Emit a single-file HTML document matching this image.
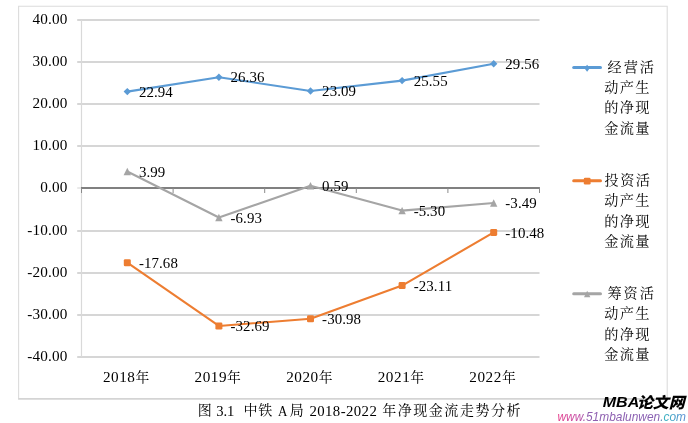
<!DOCTYPE html>
<html lang="zh-CN"><head><meta charset="utf-8"><title>图 3.1 中铁 A 局 2018-2022 年净现金流走势分析</title>
<style>html,body{margin:0;padding:0;background:#fff}body{width:688px;height:423px;overflow:hidden}svg{display:block}text{font-family:'Liberation Serif','Noto Serif CJK SC',serif;fill:#000}.n{font-size:15.2px;letter-spacing:0.18px}.d{font-size:14.9px;letter-spacing:0.1px}.c{font-size:14px}.w{font-family:'Liberation Sans','Noto Sans CJK SC',sans-serif;font-style:italic}</style></head><body>
<svg width="688" height="423" viewBox="0 0 688 423">
<defs><linearGradient id="wg" gradientUnits="userSpaceOnUse" x1="557" x2="686" y1="0" y2="0"><stop offset="0" stop-color="#e8408c"/><stop offset="0.17" stop-color="#c44fa8"/><stop offset="0.24" stop-color="#9060b0"/><stop offset="0.79" stop-color="#8a62b4"/><stop offset="0.825" stop-color="#3cb4c0"/><stop offset="1" stop-color="#5a8cd4"/></linearGradient></defs>
<rect width="688" height="423" fill="#fff"/>
<path d="M18.6 398.6V6.3H667.2V398.6" fill="none" stroke="#dcdcdc" stroke-width="1.1"/>
<line x1="18.1" x2="667.7" y1="398.9" y2="398.9" stroke="#d4d4d4" stroke-width="1.9"/>
<line x1="77.2" x2="539.5" y1="357.00" y2="357.00" stroke="#d6d6d6" stroke-width="1.9"/>
<line x1="77.2" x2="539.5" y1="315.00" y2="315.00" stroke="#d6d6d6" stroke-width="1.9"/>
<line x1="77.2" x2="539.5" y1="273.00" y2="273.00" stroke="#d6d6d6" stroke-width="1.9"/>
<line x1="77.2" x2="539.5" y1="231.00" y2="231.00" stroke="#d6d6d6" stroke-width="1.9"/>
<line x1="77.2" x2="539.5" y1="146.00" y2="146.00" stroke="#d6d6d6" stroke-width="1.9"/>
<line x1="77.2" x2="539.5" y1="104.00" y2="104.00" stroke="#d6d6d6" stroke-width="1.9"/>
<line x1="77.2" x2="539.5" y1="62.00" y2="62.00" stroke="#d6d6d6" stroke-width="1.9"/>
<line x1="77.2" x2="539.5" y1="20.00" y2="20.00" stroke="#d6d6d6" stroke-width="1.9"/>
<line x1="81.5" x2="81.5" y1="19.90" y2="357.00" stroke="#d9d9d9" stroke-width="1.2"/>
<line x1="77.2" x2="81.5" y1="188.00" y2="188.00" stroke="#e0e0e0" stroke-width="1.4"/>
<line x1="81.0" x2="539.9" y1="188.00" y2="188.00" stroke="#808080" stroke-width="1.9"/>
<line x1="81.5" x2="81.5" y1="188.00" y2="193.00" stroke="#8a8a8a" stroke-width="1"/>
<line x1="173.1" x2="173.1" y1="188.00" y2="193.00" stroke="#8a8a8a" stroke-width="1"/>
<line x1="264.7" x2="264.7" y1="188.00" y2="193.00" stroke="#8a8a8a" stroke-width="1"/>
<line x1="356.3" x2="356.3" y1="188.00" y2="193.00" stroke="#8a8a8a" stroke-width="1"/>
<line x1="447.9" x2="447.9" y1="188.00" y2="193.00" stroke="#8a8a8a" stroke-width="1"/>
<line x1="539.5" x2="539.5" y1="188.00" y2="193.00" stroke="#8a8a8a" stroke-width="1"/>
<text class="n" x="67.5" y="361.30" text-anchor="end">-40.00</text>
<text class="n" x="67.5" y="319.30" text-anchor="end">-30.00</text>
<text class="n" x="67.5" y="277.30" text-anchor="end">-20.00</text>
<text class="n" x="67.5" y="235.30" text-anchor="end">-10.00</text>
<text class="n" x="67.5" y="192.30" text-anchor="end">0.00</text>
<text class="n" x="67.5" y="150.30" text-anchor="end">10.00</text>
<text class="n" x="67.5" y="108.30" text-anchor="end">20.00</text>
<text class="n" x="67.5" y="66.30" text-anchor="end">30.00</text>
<text class="n" x="67.5" y="24.30" text-anchor="end">40.00</text>
<polyline points="127.30,171.44 218.90,217.44 310.50,185.76 402.10,210.58 493.70,202.95" fill="none" stroke="#a5a5a5" stroke-width="2.1" stroke-linejoin="round" stroke-linecap="round"/>
<polyline points="127.30,262.73 218.90,325.96 310.50,318.75 402.10,285.60 493.70,232.40" fill="none" stroke="#ed7d31" stroke-width="2.1" stroke-linejoin="round" stroke-linecap="round"/>
<polyline points="127.30,91.62 218.90,77.21 310.50,90.98 402.10,80.62 493.70,63.73" fill="none" stroke="#5b9bd5" stroke-width="2.1" stroke-linejoin="round" stroke-linecap="round"/>
<path d="M127.30 167.74 L131.00 175.14 L123.60 175.14Z" fill="#a5a5a5"/>
<rect x="123.80" y="259.23" width="7.00" height="7.00" rx="1.3" fill="#ed7d31"/>
<path d="M127.30 87.92 L131.00 91.62 L127.30 95.32 L123.60 91.62Z" fill="#5b9bd5"/>
<path d="M218.90 213.74 L222.60 221.14 L215.20 221.14Z" fill="#a5a5a5"/>
<rect x="215.40" y="322.46" width="7.00" height="7.00" rx="1.3" fill="#ed7d31"/>
<path d="M218.90 73.51 L222.60 77.21 L218.90 80.91 L215.20 77.21Z" fill="#5b9bd5"/>
<path d="M310.50 182.06 L314.20 189.46 L306.80 189.46Z" fill="#a5a5a5"/>
<rect x="307.00" y="315.25" width="7.00" height="7.00" rx="1.3" fill="#ed7d31"/>
<path d="M310.50 87.28 L314.20 90.98 L310.50 94.68 L306.80 90.98Z" fill="#5b9bd5"/>
<path d="M402.10 206.88 L405.80 214.28 L398.40 214.28Z" fill="#a5a5a5"/>
<rect x="398.60" y="282.10" width="7.00" height="7.00" rx="1.3" fill="#ed7d31"/>
<path d="M402.10 76.92 L405.80 80.62 L402.10 84.32 L398.40 80.62Z" fill="#5b9bd5"/>
<path d="M493.70 199.25 L497.40 206.65 L490.00 206.65Z" fill="#a5a5a5"/>
<rect x="490.20" y="228.90" width="7.00" height="7.00" rx="1.3" fill="#ed7d31"/>
<path d="M493.70 60.03 L497.40 63.73 L493.70 67.43 L490.00 63.73Z" fill="#5b9bd5"/>
<text class="d" x="138.90" y="96.82">22.94</text>
<text class="d" x="230.50" y="82.41">26.36</text>
<text class="d" x="322.10" y="96.18">23.09</text>
<text class="d" x="413.70" y="85.82">25.55</text>
<text class="d" x="505.30" y="68.93">29.56</text>
<text class="d" x="138.90" y="267.93">-17.68</text>
<text class="d" x="230.50" y="331.16">-32.69</text>
<text class="d" x="322.10" y="323.95">-30.98</text>
<text class="d" x="413.70" y="290.80">-23.11</text>
<text class="d" x="505.30" y="237.60">-10.48</text>
<text class="d" x="138.90" y="176.64">3.99</text>
<text class="d" x="230.50" y="222.64">-6.93</text>
<text class="d" x="322.10" y="190.96">0.59</text>
<text class="d" x="413.70" y="215.78">-5.30</text>
<text class="d" x="505.30" y="208.15">-3.49</text>
<text class="n" x="126.40" y="382.0" text-anchor="middle" style="letter-spacing:0.55px">2018<tspan font-size="13.8" dy="-0.2">年</tspan></text>
<text class="n" x="218.00" y="382.0" text-anchor="middle" style="letter-spacing:0.55px">2019<tspan font-size="13.8" dy="-0.2">年</tspan></text>
<text class="n" x="309.60" y="382.0" text-anchor="middle" style="letter-spacing:0.55px">2020<tspan font-size="13.8" dy="-0.2">年</tspan></text>
<text class="n" x="401.20" y="382.0" text-anchor="middle" style="letter-spacing:0.55px">2021<tspan font-size="13.8" dy="-0.2">年</tspan></text>
<text class="n" x="492.80" y="382.0" text-anchor="middle" style="letter-spacing:0.55px">2022<tspan font-size="13.8" dy="-0.2">年</tspan></text>
<line x1="573.7" x2="600.5" y1="67.50" y2="67.50" stroke="#5b9bd5" stroke-width="3" stroke-linecap="round"/>
<path d="M587.10 64.70 L589.80 68.20 L587.10 71.70 L584.40 68.20Z" fill="#5b9bd5"/>
<text x="607.50" y="71.70" font-size="14.2" letter-spacing="1.95">经营活</text>
<text x="604.30" y="92.05" font-size="14.2" letter-spacing="1.3">动产生</text>
<text x="604.30" y="112.40" font-size="14.2" letter-spacing="1.3">的净现</text>
<text x="604.30" y="132.75" font-size="14.2" letter-spacing="1.3">金流量</text>
<line x1="573.7" x2="600.5" y1="180.80" y2="180.80" stroke="#ed7d31" stroke-width="3" stroke-linecap="round"/>
<rect x="583.80" y="177.70" width="6.80" height="6.80" rx="1.3" fill="#ed7d31"/>
<text x="604.60" y="185.00" font-size="14.2" letter-spacing="1.45">投资活</text>
<text x="604.30" y="205.35" font-size="14.2" letter-spacing="1.3">动产生</text>
<text x="604.30" y="225.70" font-size="14.2" letter-spacing="1.3">的净现</text>
<text x="604.30" y="246.05" font-size="14.2" letter-spacing="1.3">金流量</text>
<line x1="573.7" x2="600.5" y1="293.70" y2="293.70" stroke="#a5a5a5" stroke-width="3" stroke-linecap="round"/>
<path d="M587.20 290.80 L590.40 297.20 L584.00 297.20Z" fill="#a5a5a5"/>
<text x="607.50" y="297.90" font-size="14.2" letter-spacing="1.9">筹资活</text>
<text x="604.30" y="318.25" font-size="14.2" letter-spacing="1.3">动产生</text>
<text x="604.30" y="338.60" font-size="14.2" letter-spacing="1.3">的净现</text>
<text x="604.30" y="358.95" font-size="14.2" letter-spacing="1.3">金流量</text>
<text class="c" y="415.3" xml:space="preserve"><tspan x="197.8">图 </tspan><tspan x="216.3" y="416.1" font-size="14.6" textLength="18" lengthAdjust="spacing">3.1</tspan><tspan> </tspan><tspan x="243.4" y="415.3" letter-spacing="0.9">中铁 </tspan><tspan x="277.9" y="415.6" font-size="14.6" textLength="9.4" lengthAdjust="spacingAndGlyphs">A</tspan><tspan> </tspan><tspan x="289.8" y="415.3">局 </tspan><tspan x="309.4" y="415.8" font-size="14.8" textLength="67.4" lengthAdjust="spacing">2018-2022</tspan><tspan> </tspan><tspan x="382.2" y="415.3" letter-spacing="1.54">年净现金流走势分析</tspan></text>
<text class="w" x="602.8" y="406.9" font-size="15.3" font-weight="bold" textLength="36.4" lengthAdjust="spacingAndGlyphs">MBA</text>
<text class="w" x="636.9" y="408.3" font-size="15.2" font-weight="900" textLength="47.9" lengthAdjust="spacingAndGlyphs">论文网</text>
<text class="w" x="557.5" y="420.6" font-size="12.6" style="fill:url(#wg)" textLength="128.5" lengthAdjust="spacingAndGlyphs">www.51mbalunwen.com</text>
</svg></body></html>
